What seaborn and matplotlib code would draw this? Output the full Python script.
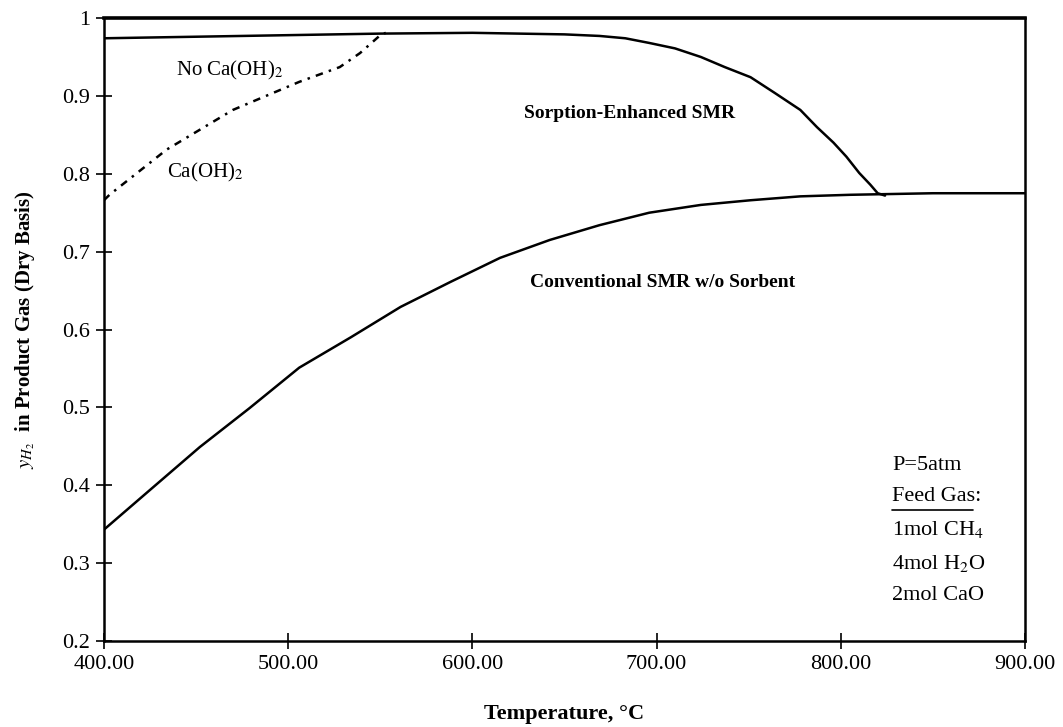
import numpy as np
import pandas as pd
import seaborn as sns
import matplotlib.pyplot as plt

# Values
conv_T = [400, 425, 452, 479, 506, 534, 561, 588, 615, 642, 669, 696, 724, 751, 778, 805, 850, 900]
conv_y = [0.343, 0.394, 0.449, 0.499, 0.551, 0.590, 0.629, 0.661, 0.692, 0.715,
          0.734, 0.750, 0.760, 0.766, 0.771, 0.773, 0.775, 0.775]

se_T = [400, 450, 500, 550, 600, 650, 669, 683, 696, 710, 724, 737, 751, 764, 778,
        787, 796, 803, 810, 816, 820, 824]
se_y = [0.974, 0.976, 0.978, 0.980, 0.981, 0.979, 0.977, 0.974, 0.968, 0.961, 0.950,
        0.937, 0.924, 0.904, 0.882, 0.860, 0.840, 0.822, 0.801, 0.786, 0.775, 0.772]

caoh_T = [400, 403, 434, 470, 506, 528, 539, 550, 553]
caoh_y = [0.766, 0.773, 0.831, 0.882, 0.918, 0.937, 0.955, 0.978, 0.981]

x_ticks = [400, 500, 600, 700, 800, 900]
y_ticks = [0.2, 0.3, 0.4, 0.5, 0.6, 0.7, 0.8, 0.9, 1.0]
y_labels = ["0.2", "0.3", "0.4", "0.5", "0.6", "0.7", "0.8", "0.9", "1"]

feed_lines = ["P=5atm", "Feed Gas:", "1mol CH$_4$", "4mol H$_2$O", "2mol CaO"]

sns.set_theme(style="ticks")
plt.rcParams["font.family"] = ["Liberation Serif", "DejaVu Serif"]
plt.rcParams["mathtext.fontset"] = "stix"
plt.rcParams["text.color"] = "black"
plt.rcParams["axes.labelcolor"] = "black"

fig = plt.figure(figsize=(10.63, 7.27), dpi=100)
ax = fig.add_axes([0.0978, 0.1183, 0.8665, 0.8569])

conv = pd.DataFrame({"T": conv_T, "y": conv_y})
se = pd.DataFrame({"T": se_T, "y": se_y})
caoh = pd.DataFrame({"T": caoh_T, "y": caoh_y})

sns.lineplot(data=conv, x="T", y="y", color="black", lw=1.8, ax=ax)
sns.lineplot(data=se, x="T", y="y", color="black", lw=1.8, ax=ax)
sns.lineplot(data=caoh, x="T", y="y", color="black", lw=1.8, ax=ax,
             linestyle=(0, (3, 2.5, 1, 2.5)))

ax.set_xlim(400, 900)
ax.set_ylim(0.2, 1.0)
ax.set_xticks(x_ticks)
ax.set_xticklabels([f"{t:.2f}" for t in x_ticks])
ax.set_yticks(y_ticks)
ax.set_yticklabels(y_labels)
ax.tick_params(axis="both", direction="inout", length=12, width=1.2,
               labelsize=16, colors="black", pad=4)
for s in ax.spines.values():
    s.set_linewidth(1.8)
    s.set_color("black")
ax.spines["top"].set_linewidth(2.6)

ax.set_xlabel("Temperature, °C", fontsize=16, fontweight="bold", labelpad=22)
ax.set_ylabel("$y_{H_2}$  in Product Gas (Dry Basis)", fontsize=15,
              fontweight="bold", labelpad=18)

ax.text(468, 0.933, "No Ca(OH)$_2$", fontsize=15, ha="center", va="center")
ax.text(455, 0.802, "Ca(OH)$_2$", fontsize=15, ha="center", va="center")
ax.text(630 / 1.842 + 400 - 104 / 1.842, 0.878, "Sorption-Enhanced SMR", fontsize=14,
        fontweight="bold", ha="center", va="center")
ax.text(703, 0.660, "Conventional SMR w/o Sorbent", fontsize=14, fontweight="bold",
        ha="center", va="center")

feed_y = [0.426, 0.385, 0.343, 0.300, 0.258]
for txt, yy in zip(feed_lines, feed_y):
    ax.text(828, yy, txt, fontsize=16, ha="left", va="center")
# underline for "Feed Gas:"
ax.plot([828, 872], [0.368, 0.368], color="black", lw=1.2)

fig.savefig("out.png", dpi=100)
